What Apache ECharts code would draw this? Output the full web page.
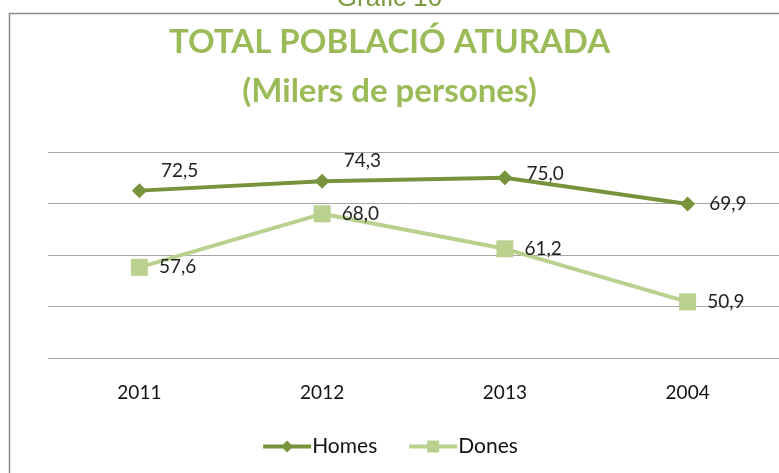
<!DOCTYPE html>
<html><head><meta charset="utf-8">
<script src="https://cdn.jsdelivr.net/npm/echarts@6/dist/echarts.min.js"></script>
<style>html,body{margin:0;padding:0;background:#fff}#c{width:779px;height:473px}</style>
</head><body><div id="c"></div>
<script>
const categories = ['2011', '2012', '2013', '2004'];
const homes = [72.5, 74.3, 75.0, 69.9];
const dones = [57.6, 68.0, 61.2, 50.9];
const seriesNames = ['Homes', 'Dones'];
const titleText = 'TOTAL POBLACIÓ ATURADA';
const subtitleText = '(Milers de persones)';
const captionText = 'Gràfic 10';

const homesLabelOffsets = [[0, -20], [0, -20], [0, -4], [0, 0]];
const fmt = v => v.toFixed(1).replace('.', ',');

const chart = echarts.init(document.getElementById('c'));
const labelFont = {fontFamily: 'Lato, "Open Sans", sans-serif', fontSize: 19, color: '#222'};
chart.setOption({
  animation: false,
  graphic: [
    {type: 'rect', shape: {x: 9.5, y: 13.5, width: 800, height: 500}, style: {fill: 'none', stroke: '#8a8a8a', lineWidth: 1.5}, z: -1},
    {type: 'text', left: 'center', top: -14, style: {text: captionText, font: '26px "Liberation Sans", Arial, sans-serif', fill: '#7A9A3E'}}
  ],
  title: [
    {text: titleText, left: 'center', top: 21, textStyle: {fontFamily: 'Lato, sans-serif', fontWeight: 'bold', fontSize: 33, color: '#9BBB59'}},
    {text: subtitleText, left: 'center', top: 70, textStyle: {fontFamily: 'Lato, sans-serif', fontWeight: 'bold', fontSize: 33, color: '#9BBB59'}}
  ],
  grid: {left: 48, right: -3, top: 152, bottom: 115},
  xAxis: {
    type: 'category', data: categories,
    axisLine: {show: false}, axisTick: {show: false},
    axisLabel: {margin: 25, fontFamily: 'Lato, sans-serif', fontSize: 19, color: '#111'}
  },
  yAxis: {
    type: 'value', min: 40, max: 80, interval: 10,
    axisLabel: {show: false}, axisLine: {show: false}, axisTick: {show: false},
    splitLine: {lineStyle: {color: '#a6a6a6', width: 1}}
  },
  legend: {
    bottom: 11, left: 'center', itemWidth: 48, itemHeight: 15, itemGap: 30,
    lineStyle: {width: 4},
    textStyle: {fontFamily: 'Lato, sans-serif', fontSize: 21, color: '#111', padding: [0, 0, 0, -4]},
    data: seriesNames
  },
  series: [
    {
      name: seriesNames[0], type: 'line',
      data: homes.map((v, i) => ({value: v, label: {offset: homesLabelOffsets[i]}})),
      symbol: 'diamond', symbolSize: 15,
      lineStyle: {color: '#77933C', width: 4},
      itemStyle: {color: '#77933C'},
      label: Object.assign({show: true, position: 'right', distance: 14, formatter: p => fmt(p.value)}, labelFont)
    },
    {
      name: seriesNames[1], type: 'line',
      data: dones,
      symbol: 'rect', symbolSize: 17,
      lineStyle: {color: '#B9D08F', width: 4},
      itemStyle: {color: '#B9D08F'},
      label: Object.assign({show: true, position: 'right', distance: 11, formatter: p => fmt(p.value)}, labelFont)
    }
  ]
});
</script></body></html>
